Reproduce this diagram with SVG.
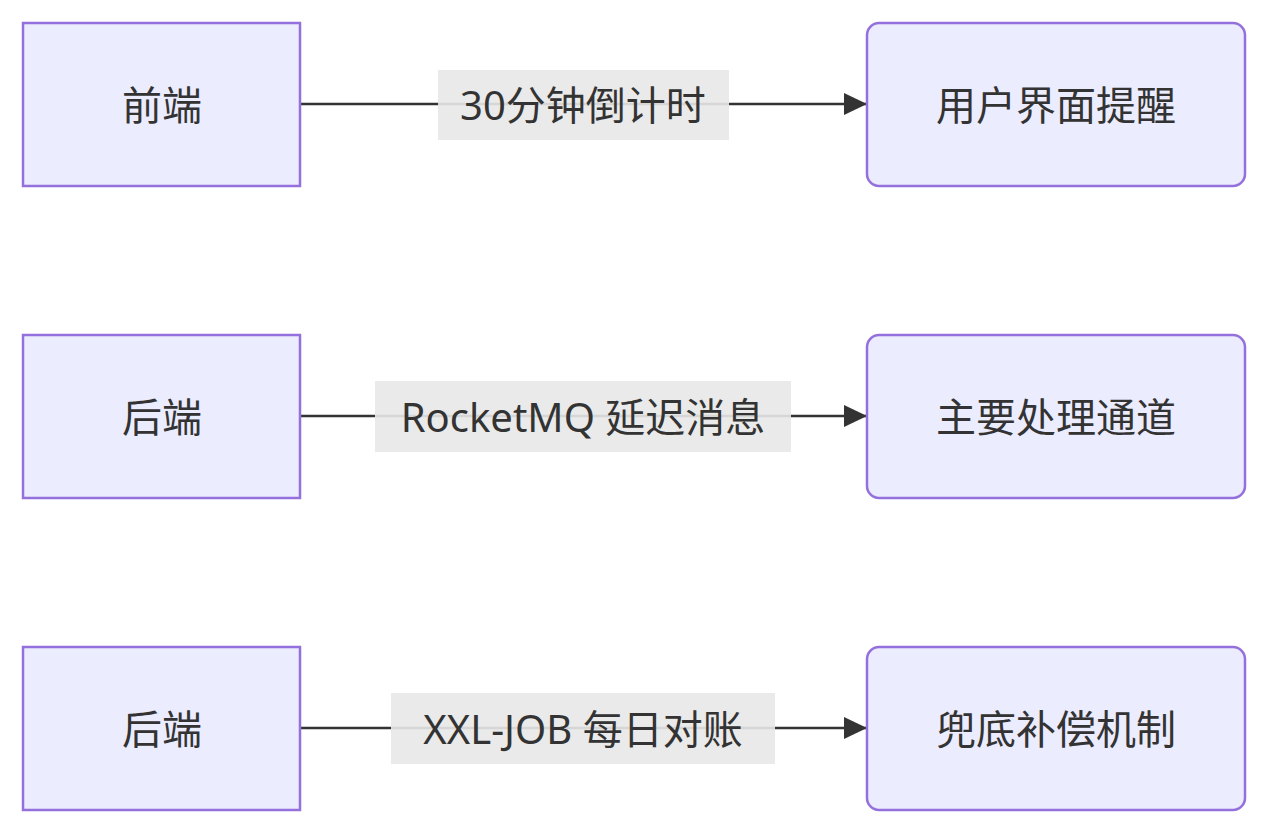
<svg xmlns="http://www.w3.org/2000/svg" width="1269" height="834" viewBox="0 0 1269 834">
<style>
.n{fill:#ECECFF;stroke:#9370DB;stroke-width:2.5}
.t{font-family:"Noto Sans","Noto Sans CJK SC",sans-serif;font-size:40px;fill:#333;text-anchor:middle;dominant-baseline:central}
.e{stroke:#333;stroke-width:2.5;fill:none}
.lb{fill:#e8e8e8;opacity:0.9}
</style>
<defs><marker id="a" viewBox="0 0 10 10" refX="10" refY="5" markerWidth="10" markerHeight="10" markerUnits="userSpaceOnUse" orient="auto"><path d="M0,0L10,5L0,10z" fill="#333"/></marker></defs>
<rect width="1269" height="834" fill="#fff"/>
<g id="edges">
<path class="e" d="M300,104H866" marker-end="url(#a)" style="marker-end:none"/>
<path d="M844,93L867,104L844,115z" fill="#333"/>
<path class="e" d="M300,416H866"/>
<path d="M844,405L867,416L844,427z" fill="#333"/>
<path class="e" d="M300,728H866"/>
<path d="M844,717L867,728L844,739z" fill="#333"/>
<rect class="lb" x="438" y="70" width="291" height="70"/>
<text class="t" x="583" y="104">30分钟倒计时</text>
<rect class="lb" x="375" y="381" width="416" height="71"/>
<text class="t" x="583" y="416">RocketMQ 延迟消息</text>
<rect class="lb" x="391" y="693" width="384" height="71"/>
<text class="t" x="583" y="728">XXL-JOB 每日对账</text>
</g>
<g id="n1"><rect class="n" x="23" y="23" width="277" height="163"/><text class="t" x="162" y="104">前端</text></g>
<g id="n2"><rect class="n" x="867" y="23" width="378" height="163" rx="12"/><text class="t" x="1056" y="104">用户界面提醒</text></g>
<g id="n3"><rect class="n" x="23" y="335" width="277" height="163"/><text class="t" x="162" y="416">后端</text></g>
<g id="n4"><rect class="n" x="867" y="335" width="378" height="163" rx="12"/><text class="t" x="1056" y="416">主要处理通道</text></g>
<g id="n5"><rect class="n" x="23" y="647" width="277" height="163"/><text class="t" x="162" y="728">后端</text></g>
<g id="n6"><rect class="n" x="867" y="647" width="378" height="163" rx="12"/><text class="t" x="1056" y="728">兜底补偿机制</text></g>
</svg>
